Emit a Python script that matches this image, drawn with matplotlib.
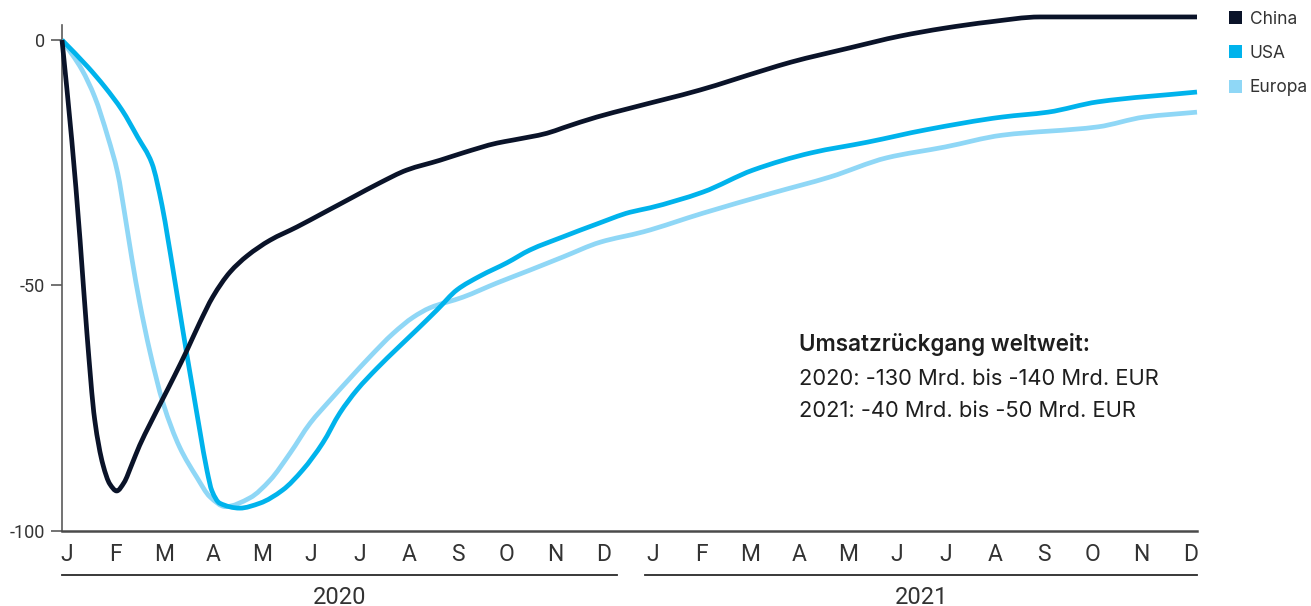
import matplotlib
matplotlib.use("Agg")
import numpy as np
import matplotlib.pyplot as plt
from matplotlib.patches import Patch, PathPatch
from matplotlib.path import Path
from matplotlib.transforms import blended_transform_factory

# ---- data (x in month index: 0 = Jan 2020 ... 23 = Dec 2021) ----
months = ["J", "F", "M", "A", "M", "J", "J", "A", "S", "O", "N", "D"] * 2
years = ["2020", "2021"]
series_names = ["China", "USA", "Europa"]

china_x = [-0.10, 0.10, 0.27, 0.41, 0.57, 0.74, 0.88, 1.02, 1.17, 1.33, 1.49, 1.70,
           1.95, 2.21, 2.46, 2.72, 2.99, 3.34, 3.69, 4.16, 4.71, 5.24, 5.86, 6.41,
           6.96, 7.64, 8.11, 8.81, 9.13, 9.83, 10.16, 10.85, 11.53, 12.96, 14.29,
           14.83, 16.03, 17.06, 17.96, 18.90, 19.93, 21.15, 23.14]
china_y = [0, -20.4, -40.8, -59.7, -77.4, -86.6, -90.5, -91.9, -90.2, -86.5, -82.6, -78.3,
           -73.4, -68.3, -63.2, -57.6, -52.3, -47.3, -44.0, -40.8, -38.1, -35.3, -32.0, -29.1,
           -26.5, -24.5, -23.0, -21.0, -20.4, -19.0, -17.9, -15.7, -13.9, -10.2, -6.1,
           -4.5, -1.6, 0.8, 2.4, 3.7, 4.7, 4.7, 4.7]

usa_x = [-0.10, 0.43, 0.78, 1.13, 1.45, 1.74, 1.95, 2.07, 2.17, 2.31, 2.46, 2.58, 2.72,
         2.87, 2.97, 3.13, 3.54, 3.95, 4.42, 4.83, 5.24, 5.59, 5.94, 6.35, 6.76, 7.17, 7.58,
         7.99, 8.46, 9.01, 9.48, 10.16, 10.85, 11.53, 11.94, 13.02, 14.05, 15.24, 16.40,
         17.59, 19.15, 20.09, 21.11, 23.14]
usa_y = [0, -5.5, -9.6, -14.3, -19.8, -25.1, -33.8, -40.6, -46.6, -55.2, -64.3, -71.3, -79.5,
         -87.8, -91.9, -94.4, -95.4, -94.4, -91.7, -87.6, -82.1, -76.0, -71.3, -66.9, -62.9, -59.0, -55.0,
         -50.9, -48.1, -45.4, -42.8, -40.1, -37.5, -35.1, -34.2, -31.0, -26.5, -23.0, -20.8,
         -18.3, -15.7, -14.7, -12.6, -10.6]

europa_x = [-0.10, 0.31, 0.57, 0.84, 1.04, 1.19, 1.33, 1.49, 1.70, 1.97, 2.31, 2.66, 2.93,
            3.25, 3.75, 4.16, 4.57, 4.98, 5.39, 5.80, 6.21, 6.68, 7.09, 7.43, 8.11, 8.81,
            9.48, 10.16, 10.92, 11.80, 13.02, 14.44, 15.63, 16.79, 17.98, 19.15, 21.11,
            22.06, 23.14]
europa_y = [0, -6.1, -11.6, -19.8, -27.1, -35.8, -44.5, -53.5, -63.5, -74.0, -83.0, -89.1, -93.1,
            -95.1, -93.3, -89.7, -84.2, -78.1, -73.4, -68.9, -64.5, -59.8, -56.5, -54.6, -52.4, -49.5,
            -46.9, -44.2, -41.2, -39.1, -35.3, -31.2, -27.9, -24.0, -21.8, -19.4, -17.7,
            -15.7, -14.7]

yticks = [0, -50, -100]
note_title = "Umsatzrückgang weltweit:"
note_lines = ["2020: -130 Mrd. bis -140 Mrd. EUR", "2021: -40 Mrd. bis -50 Mrd. EUR"]

colors = {"China": "#0a1329", "USA": "#00b3ec", "Europa": "#8fd7f6"}


def smooth_path(xs, ys):
    """Monotone cubic (PCHIP-style) Bezier path through the given points."""
    x = np.asarray(xs, float)
    y = np.asarray(ys, float)
    h = np.diff(x)
    delta = np.diff(y) / h
    n = len(x)
    d = np.zeros(n)
    d[0], d[-1] = delta[0], delta[-1]
    for k in range(1, n - 1):
        if delta[k - 1] * delta[k] <= 0:
            d[k] = 0.0
        else:
            w1 = 2 * h[k] + h[k - 1]
            w2 = h[k] + 2 * h[k - 1]
            d[k] = (w1 + w2) / (w1 / delta[k - 1] + w2 / delta[k])
    verts = [(x[0], y[0])]
    codes = [Path.MOVETO]
    for k in range(n - 1):
        verts += [(x[k] + h[k] / 3, y[k] + d[k] * h[k] / 3),
                  (x[k + 1] - h[k] / 3, y[k + 1] - d[k + 1] * h[k] / 3),
                  (x[k + 1], y[k + 1])]
        codes += [Path.CURVE4] * 3
    return Path(verts, codes)


W, H = 1311, 606
fig = plt.figure(figsize=(W / 100, H / 100), dpi=100)
ax = fig.add_axes([62 / W, 1 - 530.7 / H, 1135 / W, (530.7 - 25) / H])

cond = ["Liberation Sans Narrow", "Roboto", "DejaVu Sans"]
reg = ["Inter", "Roboto", "DejaVu Sans"]

for name, xs, ys in [("Europa", europa_x, europa_y), ("USA", usa_x, usa_y), ("China", china_x, china_y)]:
    patch = PathPatch(smooth_path(xs, ys), facecolor="none", edgecolor=colors[name],
                      lw=3.4, joinstyle="round", capstyle="butt",
                      transform=ax.transData, clip_on=False, zorder=3)
    ax.add_patch(patch)

ax.set_xlim(-0.10, 23.14)
ax.set_ylim(-100, 3.06)

for s in ["top", "right"]:
    ax.spines[s].set_visible(False)
ax.spines["left"].set_color("#5a5a5a")
ax.spines["left"].set_linewidth(1.2)
ax.spines["bottom"].set_color("#4a4a4a")
ax.spines["bottom"].set_linewidth(1.8)

ax.set_yticks(yticks)
ax.set_yticklabels([str(v) for v in yticks], family=cond, fontsize=13, color="#333333")
ax.tick_params(axis="y", length=8, width=1.2, color="#5a5a5a", pad=4)

ax.set_xticks(range(len(months)))
ax.set_xticklabels(months, family=cond, fontsize=16.5, color="#333333")
ax.tick_params(axis="x", length=0, pad=9)

# year separators and labels
tr = blended_transform_factory(ax.transData, fig.transFigure)
spans = [(-0.10, 11.26), (11.84, 23.14)]
for yr, (a, b) in zip(years, spans):
    ax.plot([a, b], [1 - 575 / H, 1 - 575 / H], color="#2a2a2a", lw=1.3,
            transform=tr, clip_on=False)
    fig.text((a + b) / 2, 1 - 597 / H, yr, transform=tr, ha="center",
             va="center", family=cond, fontsize=17, color="#333333")

# annotation
fig.text(799 / W, 1 - 344 / H, note_title, ha="left", va="center",
         family=reg, fontsize=16.2, fontweight="semibold", color="#1e1e1e")
for i, line in enumerate(note_lines):
    fig.text(799 / W, 1 - (379 + 32 * i) / H, line, ha="left", va="center",
             family=reg, fontsize=15.8, color="#1e1e1e")

# legend
handles = [Patch(facecolor=colors[n], edgecolor="none") for n in series_names]
leg = fig.legend(handles, series_names, loc="upper left",
                 bbox_to_anchor=(1229 / W, 1 - 10.5 / H), frameon=False,
                 handlelength=0.75, handleheight=0.75, handletextpad=0.45,
                 labelspacing=1.0, borderaxespad=0, borderpad=0,
                 prop={"family": reg, "size": 12.5})
for t in leg.get_texts():
    t.set_color("#333333")

fig.savefig("out.png", dpi=100)
